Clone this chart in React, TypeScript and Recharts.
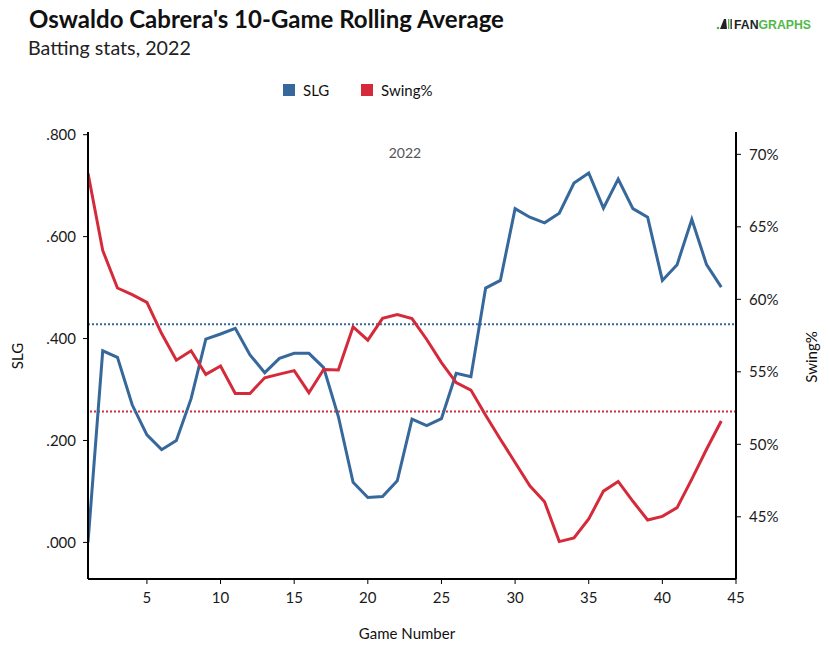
import { LineChart, Line, XAxis, YAxis, ReferenceLine } from 'recharts'

const games = [
  1, 2, 3, 4, 5, 6, 7, 8, 9, 10, 11, 12, 13, 14, 15, 16, 17, 18, 19, 20, 21, 22,
  23, 24, 25, 26, 27, 28, 29, 30, 31, 32, 33, 34, 35, 36, 37, 38, 39, 40, 41, 42, 43, 44,
]

const slg = [
  0.0, 0.376, 0.363, 0.27, 0.211, 0.182, 0.2, 0.282, 0.399, 0.409, 0.42, 0.368, 0.333, 0.361,
  0.371, 0.371, 0.343, 0.247, 0.118, 0.088, 0.09, 0.121, 0.242, 0.229, 0.243, 0.332, 0.325,
  0.499, 0.514, 0.655, 0.638, 0.627, 0.646, 0.705, 0.725, 0.656, 0.713, 0.655, 0.638, 0.514,
  0.545, 0.634, 0.545, 0.501,
]

const swingPct = [
  68.7, 63.37, 60.78, 60.32, 59.79, 57.64, 55.8, 56.45, 54.82, 55.4, 53.51, 53.51, 54.59, 54.84,
  55.08, 53.56, 55.16, 55.12, 58.1, 57.18, 58.69, 58.95, 58.67, 57.23, 55.63, 54.25, 53.74,
  52.0, 50.35, 48.75, 47.14, 46.04, 43.29, 43.54, 44.85, 46.77, 47.44, 46.07, 44.78, 45.03,
  45.63, 47.6, 49.66, 51.61,
]

const gameTicks = [5, 10, 15, 20, 25, 30, 35, 40, 45]
const slgTicks = [0, 0.2, 0.4, 0.6, 0.8]
const swingTicks = [45, 50, 55, 60, 65, 70]

const slgAvg = 0.428
const swingAvg = 52.26

const BLUE = '#36689c'
const RED = '#d42a3a'
const FG_GREEN = '#52b848'
const FONT = 'Lato, sans-serif'

const data = games.map((g, i) => ({ game: g, slg: slg[i], swing: swingPct[i] }))

const tickStyle = { fill: '#1a1a1a', fontSize: 15, fontFamily: FONT }
const axisLine = { stroke: '#000', strokeWidth: 2 }

export default function App() {
  return (
    <div style={{ position: 'absolute', left: 0, top: 0, width: 829, height: 649, background: '#fff', fontFamily: FONT }}>
      <LineChart width={829} height={649} data={data} margin={{ top: 132, right: 0, bottom: 40, left: 0 }}>
        <XAxis
          dataKey="game"
          type="number"
          domain={[1, 45]}
          ticks={gameTicks}
          allowDataOverflow
          height={30}
          tick={tickStyle}
          tickSize={5}
          tickMargin={8}
          tickLine={{ stroke: '#000' }}
          axisLine={axisLine}
        />
        <YAxis
          yAxisId="left"
          orientation="left"
          width={88}
          domain={[-0.0718, 0.8053]}
          allowDataOverflow
          ticks={slgTicks}
          tickFormatter={(v: number) => v.toFixed(3).replace(/^0/, '')}
          tick={tickStyle}
          tickSize={5}
          tickMargin={7}
          tickLine={{ stroke: '#000' }}
          axisLine={axisLine}
        />
        <YAxis
          yAxisId="right"
          orientation="right"
          width={93}
          domain={[40.71, 71.54]}
          allowDataOverflow
          ticks={swingTicks}
          tickFormatter={(v: number) => `${v}%`}
          tick={tickStyle}
          tickSize={5}
          tickMargin={8}
          tickLine={{ stroke: '#000' }}
          axisLine={axisLine}
        />
        <ReferenceLine yAxisId="left" y={slgAvg} stroke={BLUE} strokeWidth={2} strokeDasharray="2 2" />
        <ReferenceLine yAxisId="right" y={swingAvg} stroke={RED} strokeWidth={2} strokeDasharray="2 2" />
        <Line yAxisId="left" dataKey="slg" name="SLG" stroke={BLUE} strokeWidth={3} dot={false} isAnimationActive={false} />
        <Line yAxisId="right" dataKey="swing" name="Swing%" stroke={RED} strokeWidth={3} dot={false} isAnimationActive={false} />
      </LineChart>

      <svg width={829} height={649} style={{ position: 'absolute', left: 0, top: 0, pointerEvents: 'none' }}>
        <text x={29} y={28} fontFamily={FONT} fontWeight={700} fontSize={24} fill="#111">
          Oswaldo Cabrera's 10-Game Rolling Average
        </text>
        <text x={28} y={55} fontFamily={FONT} fontSize={19.7} fill="#222">
          Batting stats, 2022
        </text>

        {/* fangraphs mark */}
        <circle cx={718} cy={28} r={1.3} fill={FG_GREEN} />
        <path d="M720 29 L724 19 L726 19 L727 29 Z" fill="#222" />
        <rect x={728} y={19} width={1.3} height={10} fill={FG_GREEN} />
        <rect x={730.5} y={19} width={1.3} height={10} fill="#222" />
        <text x={734} y={29} fontFamily="Liberation Sans, Arial, sans-serif" fontWeight={700} fontSize={13} textLength={77} lengthAdjust="spacingAndGlyphs">
          <tspan fill="#222">FAN</tspan>
          <tspan fill={FG_GREEN}>GRAPHS</tspan>
        </text>

        {/* legend */}
        <rect x={283} y={84} width={12} height={12} fill={BLUE} />
        <text x={303} y={96} fontFamily={FONT} fontSize={15} fill="#111">SLG</text>
        <rect x={361} y={84} width={12} height={12} fill={RED} />
        <text x={381} y={96} fontFamily={FONT} fontSize={15} fill="#111">Swing%</text>

        <text x={405} y={158} textAnchor="middle" fontFamily={FONT} fontSize={14} fill="#555">2022</text>

        <text x={407} y={639} textAnchor="middle" fontFamily={FONT} fontSize={15} fill="#111">Game Number</text>
        <text transform="translate(23 356) rotate(-90)" textAnchor="middle" fontFamily={FONT} fontSize={15} fill="#111">SLG</text>
        <text transform="translate(817 357) rotate(-90)" textAnchor="middle" fontFamily={FONT} fontSize={15} fill="#111">Swing%</text>
      </svg>
    </div>
  )
}
